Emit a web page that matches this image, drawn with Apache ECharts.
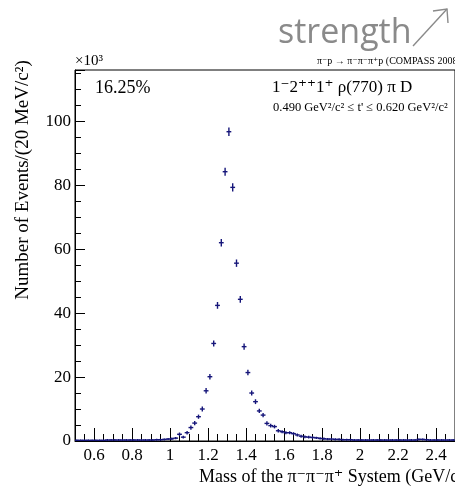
<!DOCTYPE html>
<html>
<head>
<meta charset="utf-8">
<script src="https://cdn.jsdelivr.net/npm/echarts@6/dist/echarts.min.js"></script>
<style>html,body{margin:0;padding:0;background:#fff;}#c{width:455px;height:486px;}</style>
</head>
<body>
<div id="c"></div>
<script>
// bin centres (GeV/c^2), 20 MeV bins
const masses = [
  0.51,0.53,0.55,0.57,0.59,0.61,0.63,0.65,0.67,0.69,
  0.71,0.73,0.75,0.77,0.79,0.81,0.83,0.85,0.87,0.89,
  0.91,0.93,0.95,0.97,0.99,1.01,1.03,1.05,1.07,1.09,
  1.11,1.13,1.15,1.17,1.19,1.21,1.23,1.25,1.27,1.29,
  1.31,1.33,1.35,1.37,1.39,1.41,1.43,1.45,1.47,1.49,
  1.51,1.53,1.55,1.57,1.59,1.61,1.63,1.65,1.67,1.69,
  1.71,1.73,1.75,1.77,1.79,1.81,1.83,1.85,1.87,1.89,
  1.91,1.93,1.95,1.97,1.99,2.01,2.03,2.05,2.07,2.09,
  2.11,2.13,2.15,2.17,2.19,2.21,2.23,2.25,2.27,2.29,
  2.31,2.33,2.35,2.37,2.39,2.41,2.43,2.45,2.47,2.49
];
// events (x10^3)
const counts = [
  0.2,0.2,0.2,0.2,0.2,0.2,0.2,0.2,0.3,0.3,
  0.3,0.3,0.3,0.3,0.3,0.3,0.3,0.3,0.3,0.3,
  0.3,0.4,0.4,0.5,0.6,0.7,0.9,2.1,1.2,2.6,
  4.2,5.6,7.6,10.0,15.7,20.1,30.5,42.4,62.0,84.2,
  96.7,79.3,55.6,44.3,29.5,21.4,15.0,12.3,9.4,8.1,
  5.5,4.8,4.5,3.2,2.9,2.6,2.6,2.3,1.9,1.5,
  1.3,1.2,1.1,1.0,0.8,0.7,0.6,0.6,0.5,0.5,
  0.4,0.4,0.4,0.3,0.3,0.3,0.3,0.3,0.3,0.3,
  0.3,0.3,0.3,0.3,0.3,0.3,0.3,0.3,0.3,0.3,
  0.5,0.5,0.4,0.3,0.3,0.3,0.3,0.3,0.3,0.3
];
// statistical errors (x10^3)
const errors = [
  0.15,0.15,0.15,0.15,0.15,0.15,0.15,0.15,0.15,0.15,
  0.15,0.15,0.15,0.15,0.15,0.15,0.15,0.15,0.15,0.15,
  0.15,0.15,0.15,0.15,0.15,0.2,0.2,0.4,0.3,0.4,
  0.5,0.5,0.5,0.6,0.7,0.7,0.8,0.9,1.0,1.1,
  1.2,1.1,1.0,0.9,0.8,0.7,0.6,0.6,0.5,0.5,
  0.5,0.4,0.4,0.4,0.3,0.3,0.3,0.3,0.3,0.3,
  0.25,0.25,0.25,0.2,0.2,0.2,0.2,0.2,0.2,0.2,
  0.15,0.15,0.15,0.15,0.15,0.15,0.15,0.15,0.15,0.15,
  0.15,0.15,0.15,0.15,0.15,0.15,0.15,0.15,0.15,0.15,
  0.15,0.15,0.15,0.15,0.15,0.15,0.15,0.15,0.15,0.15
];
const binWidth = 0.02;

const serif = '"Liberation Serif", "DejaVu Serif", serif';
const markColor = '#16167a';
const data = masses.map((m, i) => [m, counts[i], errors[i]]);

const chart = echarts.init(document.getElementById('c'), null, {renderer: 'canvas'});
chart.setOption({
  animation: false,
  backgroundColor: '#fff',
  grid: {left: 75, top: 70, width: 390, height: 371, show: true, borderColor: '#000', borderWidth: 1, backgroundColor: 'transparent'},
  xAxis: {
    type: 'value', min: 0.5, max: 2.5, splitNumber: 10,
    axisLine: {show: true, lineStyle: {color: '#000', width: 1}},
    axisTick: {show: true, inside: true, length: 13, lineStyle: {color: '#000', width: 1}},
    minorTick: {show: true, splitNumber: 4, length: 7, lineStyle: {color: '#000', width: 1}},
    splitLine: {show: false},
    axisLabel: {color: '#000', fontFamily: serif, fontSize: 17, margin: 6, showMinLabel: false, showMaxLabel: false}
  },
  yAxis: {
    type: 'value', min: 0, max: 116, interval: 20,
    axisLine: {show: true, lineStyle: {color: '#000', width: 1}},
    axisTick: {show: true, inside: true, length: 10, lineStyle: {color: '#000', width: 1}},
    minorTick: {show: true, splitNumber: 4, length: 6, lineStyle: {color: '#000', width: 1}},
    splitLine: {show: false},
    axisLabel: {color: '#000', fontFamily: serif, fontSize: 17, margin: 4, showMaxLabel: false}
  },
  series: [{
    type: 'custom',
    data: data,
    clip: true,
    renderItem: function (params, api) {
      const x = api.value(0), y = api.value(1), e = api.value(2);
      const l = api.coord([x - binWidth / 2, y]);
      const r = api.coord([x + binWidth / 2, y]);
      const t = api.coord([x, y + e]);
      const b = api.coord([x, Math.max(0, y - e)]);
      const st = {stroke: markColor, lineWidth: 1.4};
      return {type: 'group', children: [
        {type: 'line', shape: {x1: l[0] - 0.5, y1: l[1], x2: r[0] + 0.5, y2: r[1]}, style: st},
        {type: 'line', shape: {x1: t[0], y1: t[1] - 0.5, x2: b[0], y2: b[1] + 0.5}, style: st}
      ]};
    }
  }],
  graphic: [
    {type: 'text', x: 278, y: 33, style: {text: 'strength', font: '34px "Open Sans", "Noto Sans", sans-serif', fill: '#8a8a8a', textVerticalAlign: 'middle'}},
    {type: 'polyline', shape: {points: [[413, 46], [447, 9]]}, style: {stroke: '#8a8a8a', lineWidth: 1.4, fill: null}},
    {type: 'polyline', shape: {points: [[433, 11], [447, 9], [448, 23]]}, style: {stroke: '#8a8a8a', lineWidth: 1.4, fill: null}},
    {type: 'text', x: 75, y: 61, style: {text: '×10³', font: '15px ' + serif, fill: '#000', textVerticalAlign: 'middle'}},
    {type: 'text', x: 317, y: 61, style: {text: 'π⁻p → π⁻π⁻π⁺p (COMPASS 2008)', font: '10px ' + serif, fill: '#000', textVerticalAlign: 'middle'}},
    {type: 'text', x: 95, y: 88, style: {text: '16.25%', font: '18px ' + serif, fill: '#000', textVerticalAlign: 'middle'}},
    {type: 'text', x: 272, y: 88, style: {text: '1⁻2⁺⁺1⁺ ρ(770) π D', font: '17px ' + serif, fill: '#000', textVerticalAlign: 'middle'}},
    {type: 'text', x: 273, y: 108, style: {text: "0.490 GeV²/c² ≤ t' ≤ 0.620 GeV²/c²", font: '12.5px ' + serif, fill: '#000', textVerticalAlign: 'middle'}},
    {type: 'text', x: 23, y: 180, rotation: Math.PI / 2, style: {text: 'Number of Events/(20 MeV/c²)', font: '19px ' + serif, fill: '#000', textAlign: 'center', textVerticalAlign: 'middle'}},
    {type: 'text', x: 199, y: 477, style: {text: 'Mass of the π⁻π⁻π⁺ System (GeV/c²)', font: '18px ' + serif, fill: '#000', textAlign: 'left', textVerticalAlign: 'middle'}}
  ]
});
</script>
</body>
</html>
